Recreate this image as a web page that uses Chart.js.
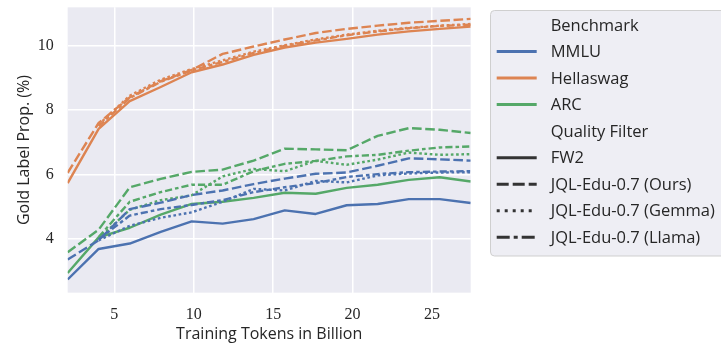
<!DOCTYPE html>
<html>
<head>
<meta charset="utf-8">
<script src="https://cdn.jsdelivr.net/npm/chart.js@4.4.1/dist/chart.umd.min.js"></script>
<style>
  html, body { margin: 0; padding: 0; background: #ffffff; }
  #wrap { width: 721px; height: 347px; }
</style>
</head>
<body>
<div id="wrap"><canvas id="chart" width="721" height="347"></canvas></div>
<script>
// Training tokens (billions) at each evaluated checkpoint
const tokens = [2.06, 4.01, 5.97, 7.92, 9.87, 11.82, 13.77, 15.73, 17.68, 19.63, 21.58, 23.54, 25.49, 27.44];

const benchmarks = ['MMLU', 'Hellaswag', 'ARC'];
const filters = ['FW2', 'JQL-Edu-0.7 (Ours)', 'JQL-Edu-0.7 (Gemma)', 'JQL-Edu-0.7 (Llama)'];

// Gold label proportion (%) per benchmark and quality filter
const mmluFW2   = [2.73, 3.68, 3.85, 4.21, 4.54, 4.47, 4.61, 4.88, 4.77, 5.04, 5.08, 5.23, 5.23, 5.11];
const mmluOurs  = [3.35, 3.95, 4.92, 5.12, 5.36, 5.50, 5.70, 5.87, 6.02, 6.06, 6.27, 6.50, 6.47, 6.43];
const mmluGemma = [null, 3.95, 4.40, 4.65, 4.82, 5.15, 5.55, 5.50, 5.80, 5.75, 5.97, 6.03, 6.06, 6.07];
const mmluLlama = [null, 3.98, 4.72, 4.92, 5.05, 5.20, 5.45, 5.60, 5.73, 5.92, 6.01, 6.07, 6.09, 6.10];

const hellaFW2   = [5.73, 7.42, 8.28, 8.72, 9.18, 9.42, 9.72, 9.95, 10.10, 10.22, 10.35, 10.45, 10.53, 10.60];
const hellaOurs  = [6.05, 7.60, 8.40, 8.90, 9.25, 9.75, 9.98, 10.20, 10.40, 10.53, 10.63, 10.72, 10.78, 10.84];
const hellaGemma = [null, 7.55, 8.45, 8.95, 9.28, 9.55, 9.82, 10.02, 10.20, 10.35, 10.47, 10.56, 10.63, 10.68];
const hellaLlama = [null, 7.50, 8.38, 8.88, 9.24, 9.50, 9.78, 10.00, 10.17, 10.33, 10.45, 10.55, 10.62, 10.66];

const arcFW2   = [2.93, 4.04, 4.34, 4.75, 5.08, 5.15, 5.27, 5.43, 5.40, 5.58, 5.68, 5.83, 5.91, 5.78];
const arcOurs  = [3.58, 4.28, 5.60, 5.86, 6.08, 6.15, 6.43, 6.80, 6.78, 6.75, 7.20, 7.44, 7.39, 7.29];
const arcGemma = [null, 4.00, 4.90, 5.20, 5.35, 5.94, 6.17, 6.10, 6.42, 6.30, 6.46, 6.68, 6.61, 6.63];
const arcLlama = [null, 4.05, 5.15, 5.45, 5.68, 5.68, 6.10, 6.33, 6.42, 6.56, 6.61, 6.74, 6.84, 6.87];

const seriesByBenchmark = [
  [mmluFW2, mmluOurs, mmluGemma, mmluLlama],
  [hellaFW2, hellaOurs, hellaGemma, hellaLlama],
  [arcFW2, arcOurs, arcGemma, arcLlama]
];

const colors = ['#4C72B0', '#DD8452', '#55A868'];
const LW = 2.4;
const lineDashes = [[], [4 * LW, 1.5 * LW], [1.1 * LW, 1.1 * LW], [3 * LW, 1.25 * LW, 1.5 * LW, 1.25 * LW]];
const legendDashes = [[], [12, 4], [3, 5], [13, 4, 4, 4]];

const SANS = '"Open Sans", "DejaVu Sans", sans-serif';
const SERIF = '"Liberation Serif", "DejaVu Serif", serif';
const TEXT = '#262626';

const datasets = [];
seriesByBenchmark.forEach((group, bi) => {
  group.forEach((vals, fi) => {
    datasets.push({
      label: benchmarks[bi] + ' / ' + filters[fi],
      data: tokens.map((t, i) => ({ x: t, y: vals[i] })),
      borderColor: colors[bi],
      backgroundColor: colors[bi],
      borderWidth: LW,
      borderDash: lineDashes[fi],
      borderCapStyle: 'butt',
      borderJoinStyle: 'round',
      pointRadius: 0,
      tension: 0,
      fill: false
    });
  });
});

// Shaded plotting area behind the grid
const plotBackground = {
  id: 'plotBackground',
  beforeDraw(chart) {
    const { ctx, chartArea: a } = chart;
    ctx.save();
    ctx.fillStyle = '#EAEAF2';
    ctx.fillRect(a.left, a.top, a.right - a.left, a.bottom - a.top);
    ctx.restore();
  }
};

// Two-section legend: benchmarks by colour, quality filters by line style
const sectionLegend = {
  id: 'sectionLegend',
  afterDraw(chart) {
    const ctx = chart.ctx;
    ctx.save();
    const bx = 490.5, by = 10.5, bw = 240, bh = 245.5, r = 4;
    ctx.beginPath();
    ctx.roundRect(bx, by, bw, bh, r);
    ctx.fillStyle = '#EEEEF4';
    ctx.fill();
    ctx.strokeStyle = '#CFCFCF';
    ctx.lineWidth = 1;
    ctx.stroke();

    const entries = [];
    entries.push({ text: 'Benchmark' });
    benchmarks.forEach((b, i) => entries.push({ text: b, color: colors[i], dash: [] }));
    entries.push({ text: 'Quality Filter' });
    filters.forEach((f, i) => entries.push({ text: f, color: '#333333', dash: legendDashes[i] }));

    ctx.font = '16.5px ' + SANS;
    ctx.textBaseline = 'middle';
    ctx.textAlign = 'left';
    entries.forEach((e, i) => {
      const cy = 25 + 26.54 * i;
      if (e.color) {
        ctx.beginPath();
        ctx.setLineDash(e.dash);
        ctx.lineCap = 'butt';
        ctx.strokeStyle = e.color;
        ctx.lineWidth = 3;
        ctx.moveTo(496.7, cy);
        ctx.lineTo(536.7, cy);
        ctx.stroke();
        ctx.setLineDash([]);
      }
      ctx.fillStyle = TEXT;
      ctx.fillText(e.text, 550.7, cy + 1);
    });
    ctx.restore();
  }
};

new Chart(document.getElementById('chart'), {
  type: 'line',
  data: { datasets },
  plugins: [plotBackground, sectionLegend],
  options: {
    responsive: false,
    animation: false,
    devicePixelRatio: 1,
    layout: { padding: { left: 0, right: 250.3, top: 7.33, bottom: 0 } },
    plugins: {
      legend: { display: false },
      tooltip: { enabled: false }
    },
    scales: {
      x: {
        type: 'linear',
        min: 2.06,
        max: 27.44,
        ticks: {
          stepSize: 5,
          includeBounds: false,
          padding: 13,
          color: TEXT,
          font: { family: SERIF, size: 16 },
          maxRotation: 0
        },
        grid: { color: '#FFFFFF', lineWidth: 1.5, drawTicks: false },
        border: { display: false },
        title: {
          display: true,
          text: 'Training Tokens in Billion',
          color: TEXT,
          font: { family: SANS, size: 16 },
          padding: { top: 0, bottom: 2.5 }
        },
        afterFit(scale) {
          scale.height = 54.33;
          scale.paddingLeft = 0;
          scale.paddingRight = 0;
        }
      },
      y: {
        type: 'linear',
        min: 2.32,
        max: 11.2,
        ticks: {
          stepSize: 2,
          includeBounds: false,
          padding: 14,
          color: TEXT,
          font: { family: SERIF, size: 16 }
        },
        grid: { color: '#FFFFFF', lineWidth: 1.5, drawTicks: false },
        border: { display: false },
        title: {
          display: true,
          text: 'Gold Label Prop. (%)',
          color: TEXT,
          font: { family: SANS, size: 16 },
          padding: { top: 14.4, bottom: 0 }
        },
        afterFit(scale) {
          scale.width = 67.67;
          scale.paddingTop = 0;
          scale.paddingBottom = 0;
        }
      }
    }
  }
});
</script>
</body>
</html>
